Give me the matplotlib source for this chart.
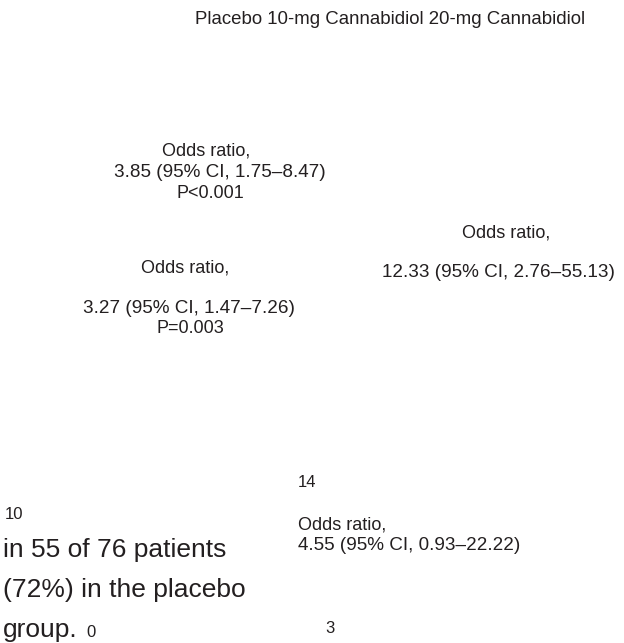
import matplotlib.pyplot as plt

# values
groups = ['Placebo', '10-mg Cannabidiol', '20-mg Cannabidiol']
odds_ratios = [3.85, 3.27, 12.33, 4.55]
ci_low = [1.75, 1.47, 2.76, 0.93]
ci_high = [8.47, 7.26, 55.13, 22.22]
p_labels = ['P<0.001', 'P=0.003']
counts = [14, 10, 0, 3]
note_lines = ['in 55 of 76 patients', '(72%) in the placebo', 'group.']

W, H = 624, 643
plt.rcParams['font.family'] = ['Liberation Sans', 'DejaVu Sans']
fig = plt.figure(figsize=(W / 100, H / 100), dpi=100)
ink = '#231f20'


def put(x, y, s, size=13, ha='center'):
    # x, y in pixels from the top-left corner, y is the baseline
    fig.text(x / W, 1 - y / H, s, ha=ha, va='baseline', fontsize=size, color=ink)


def ci_text(i):
    return '%.2f (95%% CI, %.2f\u2013%.2f)' % (odds_ratios[i], ci_low[i], ci_high[i])


# legend line
put(390, 24, ' '.join(groups), size=13.4)

# odds ratio blocks
put(206, 156, 'Odds ratio,')
put(220, 177, ci_text(0), size=13.6)
put(210, 198, p_labels[0])

put(185, 272, 'Odds ratio,')
put(189, 313, ci_text(1), size=13.6)
put(190, 333, p_labels[1])

put(506, 238, 'Odds ratio,')
put(498, 277, ci_text(2), size=13.6)

put(298, 530, 'Odds ratio,', ha='left')
put(298, 550, ci_text(3), size=13.6, ha='left')

# stray counts
put(298, 487, str(counts[0]), size=12, ha='left')
put(5, 519, str(counts[1]), size=12, ha='left')
put(86, 637, str(counts[2]), size=12, ha='left')
put(330, 633, str(counts[3]), size=12)

# large note text
for k, line in enumerate(note_lines):
    put(3, 557 + 40 * k, line, size=19, ha='left')

fig.savefig('out.png', dpi=100)
